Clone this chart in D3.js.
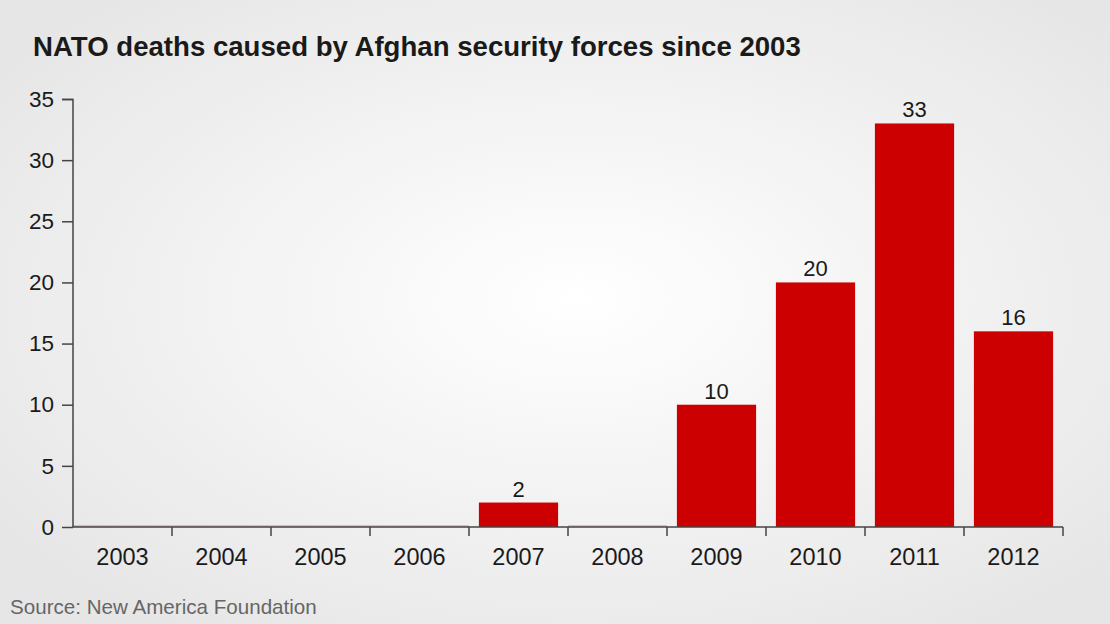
<!DOCTYPE html>
<html><head><meta charset="utf-8">
<script src="https://cdn.jsdelivr.net/npm/d3@7"></script>
<style>html,body{margin:0;padding:0;background:#f0f0f0;}svg{display:block;}</style>
</head><body>
<script>
const years = ["2003","2004","2005","2006","2007","2008","2009","2010","2011","2012"];
const deaths = [0,0,0,0,2,0,10,20,33,16];
const yTicks = [0,5,10,15,20,25,30,35];
const title = "NATO deaths caused by Afghan security forces since 2003";
const source = "Source: New America Foundation";

const W=1110,H=624;
const svg=d3.select("body").append("svg").attr("width",W).attr("height",H);
const defs=svg.append("defs");
const rg=defs.append("radialGradient").attr("id","bg").attr("cx","52%").attr("cy","48%").attr("r","65%");
rg.append("stop").attr("offset","0%").attr("stop-color","#ffffff");
rg.append("stop").attr("offset","100%").attr("stop-color","#e6e6e6");
svg.append("rect").attr("width",W).attr("height",H).attr("fill","url(#bg)");

const font="'Liberation Sans', Arial, sans-serif";
const x=d3.scaleBand().domain(years).range([73,1063]).paddingInner(0.2).paddingOuter(0.1);
const y=d3.scaleLinear().domain([0,35]).range([527,99]);

svg.append("text").attr("x",33).attr("y",56).text(title)
  .attr("font-family",font).attr("font-weight","bold").attr("font-size",27.6).attr("fill","#1a1a1a");

// bars
const data=years.map((yr,i)=>({yr,v:deaths[i]}));
svg.selectAll("rect.bar").data(data).enter().append("rect").attr("class","bar")
  .attr("x",d=>x(d.yr)).attr("width",x.bandwidth())
  .attr("y",d=>y(d.v)).attr("height",d=>y(0)-y(d.v))
  .attr("fill","#cc0000");
// zero-value thin lines
svg.selectAll("line.zero").data(data.filter(d=>d.v===0)).enter().append("line")
  .attr("x1",d=>x(d.yr)-x.step()*x.paddingInner()/2).attr("x2",d=>x(d.yr)+x.bandwidth()+x.step()*x.paddingInner()/2)
  .attr("y1",y(0)-1).attr("y2",y(0)-1).attr("stroke","#e08080").attr("stroke-width",1);

// value labels
svg.selectAll("text.val").data(data.filter(d=>d.v>0)).enter().append("text")
  .attr("x",d=>x(d.yr)+x.bandwidth()/2).attr("y",d=>y(d.v)-6)
  .attr("text-anchor","middle").attr("font-family",font).attr("font-size",22).attr("fill","#1a1a1a")
  .text(d=>d.v);

// y axis
const yAxis=d3.axisLeft(y).tickValues(yTicks).tickSize(11).tickPadding(8);
const gy=svg.append("g").attr("transform","translate(73,0)").call(yAxis);
gy.select(".domain").attr("stroke","#444").attr("stroke-width",1.5).attr("d","M-11,99.5H0V527");
gy.selectAll(".tick line").attr("stroke","#444").attr("stroke-width",1.5);
gy.selectAll(".tick text").attr("font-family",font).attr("font-size",22.5).attr("fill","#1a1a1a");

// x axis
const gx=svg.append("g").attr("transform","translate(0,527)");
gx.append("line").attr("x1",73).attr("x2",1063).attr("y1",0).attr("y2",0).attr("stroke","#444").attr("stroke-width",1.5);
const bounds=years.slice(1).map(yr=>x(yr)-x.step()*x.paddingInner()/2).concat([1063]);
gx.selectAll("line.tk").data(bounds).enter().append("line")
  .attr("x1",d=>d).attr("x2",d=>d).attr("y1",0).attr("y2",9).attr("stroke","#444").attr("stroke-width",1.5);
gx.selectAll("text").data(years).enter().append("text")
  .attr("x",d=>x(d)+x.bandwidth()/2).attr("y",38).attr("text-anchor","middle")
  .attr("font-family",font).attr("font-size",23.5).attr("fill","#1a1a1a").text(d=>d);

svg.append("text").attr("x",10).attr("y",614).text(source)
  .attr("font-family",font).attr("font-size",20.6).attr("fill","#666");
</script>
</body></html>
